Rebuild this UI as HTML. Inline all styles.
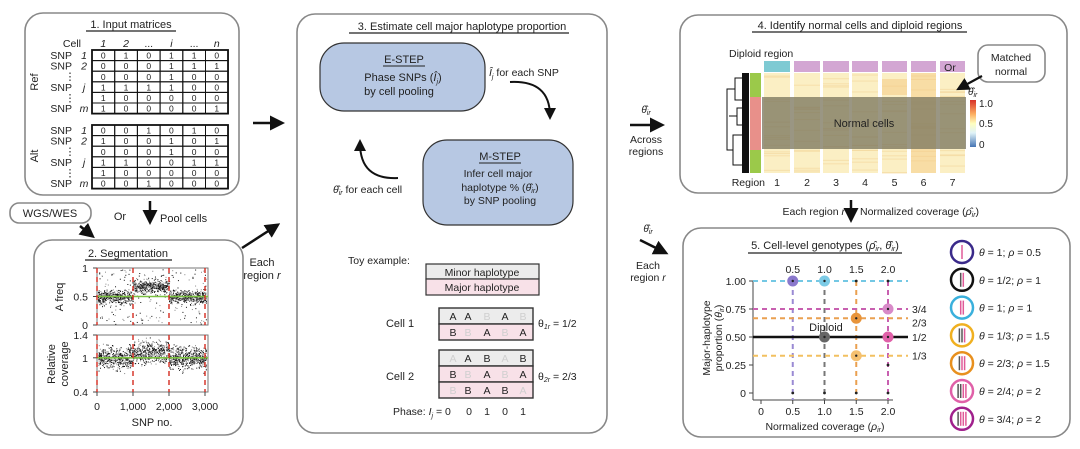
<!DOCTYPE html>
<html><head><meta charset="utf-8"><style>
html,body{margin:0;padding:0;background:#fff;}
svg{display:block;font-family:"Liberation Sans",Arial,sans-serif;fill:#222;}
</style></head><body>
<svg id="s" width="1080" height="449" viewBox="0 0 1080 449" xmlns="http://www.w3.org/2000/svg">
<defs>
<marker id="ah" markerWidth="6" markerHeight="6" refX="4" refY="3" orient="auto" markerUnits="strokeWidth"><path d="M0,0 L6,3 L0,6 z" fill="#111"/></marker>
</defs>
<rect x="25" y="13" width="214" height="182" rx="18" fill="none" stroke="#888" stroke-width="1.6"/>
<rect x="34" y="240" width="209" height="195" rx="18" fill="none" stroke="#888" stroke-width="1.6"/>
<rect x="297" y="14" width="310" height="419" rx="18" fill="none" stroke="#888" stroke-width="1.6"/>
<rect x="680" y="15" width="387" height="178" rx="18" fill="none" stroke="#888" stroke-width="1.6"/>
<rect x="683" y="228" width="387" height="209" rx="18" fill="none" stroke="#888" stroke-width="1.6"/>
<rect x="10" y="203" width="81" height="20" rx="9" fill="#fff" stroke="#888" stroke-width="1.6"/>
<text x="50" y="217" font-size="11" text-anchor="middle">WGS/WES</text>

<text x="131" y="28" font-size="11" text-anchor="middle">1. Input matrices</text>
<line x1="86" y1="31" x2="176" y2="31" stroke="#222" stroke-width="1.2"/>
<g id="p1"></g>

<line x1="253" y1="123" x2="280" y2="123" stroke="#111" stroke-width="2.5" marker-end="url(#ah)"/>
<text x="120" y="220" font-size="11" text-anchor="middle">Or</text>
<line x1="150" y1="201" x2="150" y2="220" stroke="#111" stroke-width="2.5" marker-end="url(#ah)"/>
<text x="160" y="222" font-size="11">Pool cells</text>
<line x1="80" y1="226" x2="91" y2="235" stroke="#111" stroke-width="2.5" marker-end="url(#ah)"/>
<line x1="242" y1="248" x2="276" y2="226" stroke="#111" stroke-width="2.5" marker-end="url(#ah)"/>
<text x="262" y="266" font-size="11" text-anchor="middle">Each</text>
<text x="262" y="279" font-size="11" text-anchor="middle">region <tspan font-style="italic">r</tspan></text>

<text x="128" y="257" font-size="11" text-anchor="middle">2. Segmentation</text>
<line x1="85" y1="260" x2="172" y2="260" stroke="#222" stroke-width="1.2"/>
<g id="p2"></g>

<text x="462" y="30" font-size="11" text-anchor="middle">3. Estimate cell major haplotype proportion</text>
<line x1="349" y1="33" x2="569" y2="33" stroke="#222" stroke-width="1.2"/>
<rect x="320" y="43" width="165" height="68" rx="24" fill="#b7c8e3" stroke="#333" stroke-width="1.2"/>
<text x="404" y="63" font-size="11" text-anchor="middle">E-STEP</text>
<line x1="383" y1="66" x2="425" y2="66" stroke="#222" stroke-width="1"/>
<text x="403" y="81" font-size="11" text-anchor="middle">Phase SNPs (<tspan font-style="italic">Î<tspan font-size="7" dy="3">j</tspan></tspan><tspan dy="-3">)</tspan></text>
<text x="399" y="95" font-size="11" text-anchor="middle">by cell pooling</text>
<rect x="423" y="140" width="150" height="85" rx="24" fill="#b7c8e3" stroke="#333" stroke-width="1.2"/>
<text x="500" y="160" font-size="11" text-anchor="middle">M-STEP</text>
<line x1="479" y1="163" x2="521" y2="163" stroke="#222" stroke-width="1"/>
<text x="498" y="177" font-size="10.5" text-anchor="middle">Infer cell major</text>
<text x="500" y="191" font-size="10.5" text-anchor="middle">haplotype % (<tspan font-style="italic">θ̂<tspan font-size="7" dy="2">ir</tspan></tspan><tspan dy="-2">)</tspan></text>
<text x="500" y="204" font-size="10.5" text-anchor="middle">by SNP pooling</text>
<text x="489" y="76" font-size="10.5"><tspan font-style="italic">Î<tspan font-size="7" dy="3">j</tspan></tspan><tspan dy="-3"> for each SNP</tspan></text>
<path d="M510,82 Q550,80 550,116" fill="none" stroke="#111" stroke-width="2" marker-end="url(#ah)"/>
<path d="M398,178 Q360,180 360,143" fill="none" stroke="#111" stroke-width="2" marker-end="url(#ah)"/>
<text x="333" y="193" font-size="10.5"><tspan font-style="italic">θ̂<tspan font-size="7" dy="2">ir</tspan></tspan><tspan dy="-2"> for each cell</tspan></text>
<text x="348" y="264" font-size="10.5">Toy example:</text>
<rect x="426" y="264" width="113" height="15" fill="#ececec" stroke="#333" stroke-width="1.2"/>
<rect x="426" y="279" width="113" height="16" fill="#f8e1e8" stroke="#333" stroke-width="1.2"/>
<text x="482" y="276" font-size="10.5" text-anchor="middle">Minor haplotype</text>
<text x="482" y="291" font-size="10.5" text-anchor="middle">Major haplotype</text>
<g id="p3"></g>
<text x="400" y="327" font-size="11" text-anchor="middle">Cell 1</text>
<text x="400" y="380" font-size="11" text-anchor="middle">Cell 2</text>
<text x="538" y="327" font-size="10.5">θ<tspan font-size="7" dy="2" font-style="italic">1r</tspan><tspan dy="-2"> = 1/2</tspan></text>
<text x="538" y="380" font-size="10.5">θ<tspan font-size="7" dy="2" font-style="italic">2r</tspan><tspan dy="-2"> = 2/3</tspan></text>
<text x="393" y="415" font-size="10.5">Phase: <tspan font-style="italic">I<tspan font-size="7" dy="3">j</tspan></tspan><tspan dy="-3"> = 0</tspan></text>
<text x="469" y="415" font-size="10.5" text-anchor="middle">0</text>
<text x="487" y="415" font-size="10.5" text-anchor="middle">1</text>
<text x="505" y="415" font-size="10.5" text-anchor="middle">0</text>
<text x="523" y="415" font-size="10.5" text-anchor="middle">1</text>

<text x="646" y="113" font-size="10" text-anchor="middle" font-style="italic">θ̂<tspan font-size="7" dy="2">ir</tspan></text>
<line x1="630" y1="125" x2="660" y2="125" stroke="#111" stroke-width="2.5" marker-end="url(#ah)"/>
<text x="646" y="143" font-size="10.5" text-anchor="middle">Across</text>
<text x="646" y="155" font-size="10.5" text-anchor="middle">regions</text>
<text x="648" y="232" font-size="10" text-anchor="middle" font-style="italic">θ̂<tspan font-size="7" dy="2">ir</tspan></text>
<line x1="640" y1="240" x2="664" y2="252" stroke="#111" stroke-width="2.5" marker-end="url(#ah)"/>
<text x="648" y="269" font-size="10.5" text-anchor="middle">Each</text>
<text x="648" y="281" font-size="10.5" text-anchor="middle">region <tspan font-style="italic">r</tspan></text>
<text x="845" y="215" font-size="10.5" text-anchor="end">Each region <tspan font-style="italic">r</tspan></text>
<line x1="851" y1="200" x2="851" y2="218" stroke="#111" stroke-width="2.5" marker-end="url(#ah)"/>
<text x="860" y="215" font-size="10.5">Normalized coverage (<tspan font-style="italic">ρ̂<tspan font-size="7" dy="2">ir</tspan></tspan><tspan dy="-2">)</tspan></text>

<text x="860" y="29" font-size="11" text-anchor="middle">4. Identify normal cells and diploid regions</text>
<line x1="752" y1="32" x2="967" y2="32" stroke="#222" stroke-width="1.2"/>
<text x="729" y="57" font-size="10.5">Diploid region</text>
<g id="p4"></g>
<rect x="978" y="45" width="67" height="37" rx="10" fill="#fff" stroke="#888" stroke-width="1.6"/>
<text x="1011" y="61" font-size="10.5" text-anchor="middle">Matched</text>
<text x="1011" y="75" font-size="10.5" text-anchor="middle">normal</text>
<text x="950" y="71" font-size="10.5" text-anchor="middle">Or</text>
<line x1="982" y1="76" x2="960" y2="88" stroke="#111" stroke-width="2.2" marker-end="url(#ah)"/>
<text x="968" y="95" font-size="10" font-style="italic">θ̂<tspan font-size="7" dy="2">ir</tspan></text>
<defs><linearGradient id="cb" x1="0" y1="0" x2="0" y2="1"><stop offset="0" stop-color="#d73027"/><stop offset="0.3" stop-color="#fdae61"/><stop offset="0.5" stop-color="#ffffbf"/><stop offset="0.7" stop-color="#e0f3f8"/><stop offset="1" stop-color="#4575b4"/></linearGradient></defs>
<rect x="970" y="100" width="6" height="47" fill="url(#cb)"/>
<text x="979" y="107" font-size="10">1.0</text>
<text x="979" y="127" font-size="10">0.5</text>
<text x="979" y="148" font-size="10">0</text>
<text x="765" y="186" font-size="10.5" text-anchor="end">Region</text>

<text x="825" y="249" font-size="11" text-anchor="middle">5. Cell-level genotypes (<tspan font-style="italic">ρ̂<tspan font-size="7" dy="2">ir</tspan></tspan><tspan dy="-2">, </tspan><tspan font-style="italic">θ̂<tspan font-size="7" dy="2">ir</tspan></tspan><tspan dy="-2">)</tspan></text>
<line x1="748" y1="253" x2="902" y2="253" stroke="#222" stroke-width="1.2"/>
<text x="825" y="430" font-size="10.5" text-anchor="middle">Normalized coverage (<tspan font-style="italic">ρ<tspan font-size="7" dy="2">ir</tspan></tspan><tspan dy="-2">)</tspan></text>
<text transform="translate(710,338) rotate(-90)" font-size="10.5" text-anchor="middle">Major-haplotype</text>
<text transform="translate(722,338) rotate(-90)" font-size="10.5" text-anchor="middle">proportion (<tspan font-style="italic">θ<tspan font-size="7" dy="2">ir</tspan></tspan><tspan dy="-2">)</tspan></text>
<g id="p5"></g>
</svg>
<script>
var NS="http://www.w3.org/2000/svg";
function el(p,t,a,txt){var e=document.createElementNS(NS,t);for(var k in a)e.setAttribute(k,a[k]);if(txt!=null)e.textContent=txt;document.getElementById(p).appendChild(e);return e;}
var seed=7;function rnd(){seed=(seed*16807)%2147483647;return seed/2147483647;}
function gauss(){return (rnd()+rnd()+rnd()+rnd()-2)/1.2;}
var hdr=["1","2","...","i","...","n"];
el("p1","text",{x:81,y:47,"font-size":10.5,"text-anchor":"end"},"Cell");
for(var c=0;c<6;c++)el("p1","text",{x:103.3+c*22.7,y:47,"font-size":10.5,"text-anchor":"middle","font-style":(c==2||c==4)?"normal":"italic"},hdr[c]);
var ref=["010110","000111","000100","111100","100000","100001"],alt=["001010","100101","000100","110011","100000","001000"];
var lab=[["SNP","1"],["SNP","2"],["⋮",""],["SNP","j"],["⋮",""],["SNP","m"]];
function mat(y0,d,name,ny){var h=10.6;
 el("p1","rect",{x:92,y:y0,width:136,height:h*6,fill:"#fff",stroke:"#111","stroke-width":1.8});
 for(var r=0;r<6;r++){for(var c=0;c<6;c++){el("p1","rect",{x:92+c*22.7,y:y0+r*h,width:22.7,height:h,fill:"none",stroke:"#111","stroke-width":1});
   el("p1","text",{x:103.3+c*22.7,y:y0+r*h+8.6,"font-size":8.5,"text-anchor":"middle"},d[r][c]);}
  el("p1","text",{x:lab[r][1]?72:70,y:y0+r*h+9,"font-size":10.5,"text-anchor":lab[r][1]?"end":"middle"},lab[r][0]);
  if(lab[r][1])el("p1","text",{x:84,y:y0+r*h+9,"font-size":10.5,"text-anchor":"middle","font-style":"italic"},lab[r][1]);}
 el("p1","text",{"font-size":11,"text-anchor":"middle",transform:"translate(38,"+ny+") rotate(-90)"},name);}
mat(50,ref,"Ref",82);mat(125,alt,"Alt",156);
function plot(y0,h,ticks,tl,gl,ylab){
 el("p2","rect",{x:97,y:y0,width:111,height:h,fill:"#fff",stroke:"#777","stroke-width":1});
 for(var i=0;i<ticks.length;i++){var yy=y0+h*ticks[i];el("p2","line",{x1:93,y1:yy,x2:97,y2:yy,stroke:"#444"});el("p2","text",{x:88,y:yy+4,"font-size":10.5,"text-anchor":"end"},tl[i]);}
 for(var n=0;n<1400;n++){var x=98+rnd()*108;var s=x<133?0:x<169?1:2;var m=gl+(ylab=="a"&&s==1?-0.18:0)+(ylab=="c"&&s==1?-0.1:0);
  var v=m+gauss()*(ylab=="a"?0.12:0.2);if(ylab=="a"&&rnd()<0.15)v=rnd();
  if(v<0.02||v>0.98)continue;el("p2","rect",{x:x,y:y0+v*h,width:1,height:1,fill:rnd()<0.6?"#111":"#888"});}
 el("p2","line",{x1:97,y1:y0+gl*h,x2:208,y2:y0+gl*h,stroke:"#7cc242","stroke-width":1.6});
 [97,133,169,205].forEach(function(x){el("p2","line",{x1:x,y1:y0,x2:x,y2:y0+h,stroke:"#d42a1f","stroke-width":1.4,"stroke-dasharray":"5,4"});});}
plot(268,57,[0,0.5,1],["1","0.5","0"],0.5,"a");
plot(335,57,[0,0.4,1],["1.4","1","0.4"],0.4,"c");
el("p2","text",{"font-size":11,"text-anchor":"middle",transform:"translate(63,297) rotate(-90)"},"A freq");
el("p2","text",{"font-size":11,"text-anchor":"middle",transform:"translate(55,364) rotate(-90)"},"Relative");
el("p2","text",{"font-size":11,"text-anchor":"middle",transform:"translate(68,364) rotate(-90)"},"coverage");
[[97,"0"],[133,"1,000"],[169,"2,000"],[205,"3,000"]].forEach(function(a){el("p2","line",{x1:a[0],y1:392,x2:a[0],y2:396,stroke:"#444"});el("p2","text",{x:a[0],y:410,"font-size":10.5,"text-anchor":"middle"},a[1]);});
el("p2","text",{x:152,y:426,"font-size":11,"text-anchor":"middle"},"SNP no.");
var cx=[453,468,487,505,523];
function row(y,bg,letters,faint){el("p3","rect",{x:439,y:y,width:94,height:16,fill:bg,stroke:"#333","stroke-width":1.4});
 for(var i=0;i<5;i++)el("p3","text",{x:cx[i],y:y+12,"font-size":10.5,"text-anchor":"middle",fill:faint[i]?"#cfcfcf":"#222"},letters[i]);}
row(308,"#ececec","AABAB",[0,0,1,0,1]);row(324,"#f8e1e8","BBABA",[0,1,0,1,0]);
row(350,"#ececec","AABAB",[1,0,0,1,0]);row(366,"#f8e1e8","BBABA",[0,1,0,1,0]);row(382,"#f8e1e8","BBABA",[1,0,0,0,1]);
var cols=[[764,790],[794,820],[823,849],[852,878],[882,907],[911,936],[940,965]];
cols.forEach(function(c,i){el("p4","rect",{x:c[0],y:61,width:c[1]-c[0],height:11,fill:i==0?"#7ecad3":"#d3a6d3"});
 el("p4","rect",{x:c[0],y:73,width:c[1]-c[0],height:100,fill:"#fbefc4"});
 for(var k=0;k<14;k++){var yy=73+rnd()*100;el("p4","rect",{x:c[0],y:yy,width:c[1]-c[0],height:1,fill:"#f3d9a0",opacity:0.7});}
 if(i==5)el("p4","rect",{x:c[0],y:73,width:c[1]-c[0],height:100,fill:"#f3c780",opacity:0.45});
 if(i==4)el("p4","rect",{x:c[0],y:79,width:c[1]-c[0],height:16,fill:"#f3c780",opacity:0.5});
 el("p4","text",{x:(c[0]+c[1])/2,y:186,"font-size":10.5,"text-anchor":"middle"},""+(i+1));});
el("p4","rect",{x:762,y:97,width:204,height:52,fill:"#7d7860",opacity:0.78});
el("p4","text",{x:864,y:127,"font-size":11,"text-anchor":"middle"},"Normal cells");
el("p4","rect",{x:750,y:73,width:11,height:24,fill:"#9bc94a"});
el("p4","rect",{x:750,y:97,width:11,height:53,fill:"#e8908a"});
el("p4","rect",{x:750,y:150,width:11,height:23,fill:"#9bc94a"});
el("p4","rect",{x:742,y:73,width:7,height:100,fill:"#111"});
el("p4","path",{d:"M742,78 H735 V100 H742 M735,89 H727 V150 H729 M742,108 H737 V125 H742 M737,116 H729 M742,135 H733 V165 H742 M733,150 H729",fill:"none",stroke:"#111","stroke-width":1});
function X(v){return 761+v*63.5;}function Y(v){return 393-v*112;}
el("p5","line",{x1:753,y1:281,x2:753,y2:400,stroke:"#444"});
el("p5","line",{x1:753,y1:400,x2:893,y2:400,stroke:"#444"});
[[1,"1.00"],[0.75,"0.75"],[0.5,"0.50"],[0.25,"0.25"],[0,"0"]].forEach(function(a){el("p5","line",{x1:749,y1:Y(a[0]),x2:753,y2:Y(a[0]),stroke:"#444"});el("p5","text",{x:746,y:Y(a[0])+4,"font-size":10.5,"text-anchor":"end"},a[1]);});
[0,0.5,1,1.5,2].forEach(function(v){el("p5","line",{x1:X(v),y1:400,x2:X(v),y2:404,stroke:"#444"});el("p5","text",{x:X(v),y:415,"font-size":10.5,"text-anchor":"middle"},v==0?"0":v.toFixed(1));});
[0.5,1,1.5,2].forEach(function(v){el("p5","text",{x:X(v),y:273,"font-size":10.5,"text-anchor":"middle"},v.toFixed(1));});
el("p5","line",{x1:X(0.5),y1:Y(1),x2:X(0.5),y2:400,stroke:"#9a8ad4","stroke-width":2,"stroke-dasharray":"5,4"});
el("p5","line",{x1:X(1),y1:Y(1),x2:X(1),y2:400,stroke:"#777","stroke-width":2,"stroke-dasharray":"5,4"});
el("p5","line",{x1:X(1.5),y1:Y(1),x2:X(1.5),y2:400,stroke:"#eaa050","stroke-width":2,"stroke-dasharray":"5,4"});
el("p5","line",{x1:X(2),y1:Y(1),x2:X(2),y2:400,stroke:"#c860b0","stroke-width":2,"stroke-dasharray":"5,4"});
el("p5","line",{x1:753,y1:Y(1),x2:908,y2:Y(1),stroke:"#74c8e4","stroke-width":2,"stroke-dasharray":"5,4"});
el("p5","line",{x1:753,y1:Y(0.75),x2:908,y2:Y(0.75),stroke:"#c860b0","stroke-width":2,"stroke-dasharray":"5,4"});
el("p5","line",{x1:753,y1:Y(0.667),x2:908,y2:Y(0.667),stroke:"#eaa050","stroke-width":2,"stroke-dasharray":"5,4"});
el("p5","line",{x1:753,y1:Y(0.333),x2:908,y2:Y(0.333),stroke:"#f2c060","stroke-width":2,"stroke-dasharray":"5,4"});
el("p5","line",{x1:753,y1:Y(0.5),x2:908,y2:Y(0.5),stroke:"#111","stroke-width":2.5});
[[0.5,1,"#8a78cc"],[1,1,"#7ccbe6"],[2,0.75,"#d88ac8"],[1.5,0.667,"#e8943a"],[1,0.5,"#666"],[2,0.5,"#e060a8"],[1.5,0.333,"#f5c070"]].forEach(function(p){el("p5","circle",{cx:X(p[0]),cy:Y(p[1]),r:5.5,fill:p[2]});el("p5","circle",{cx:X(p[0]),cy:Y(p[1]),r:1.2,fill:"#222"});});
[[1.5,1],[2,1],[2,0.25],[0.5,0],[1,0],[1.5,0],[2,0]].forEach(function(p){el("p5","circle",{cx:X(p[0]),cy:Y(p[1]),r:1.4,fill:"#222"});});
el("p5","text",{x:826,y:331,"font-size":11,"text-anchor":"middle"},"Diploid");
[[0.75,"3/4"],[0.667,"2/3"],[0.5,"1/2"],[0.333,"1/3"]].forEach(function(a,i){el("p5","text",{x:912,y:Y(a[0])+(i==1?8:4),"font-size":10.5},a[1]);});
var leg=[["#3a2a8a","1","0.5","p"],["#111","1/2","1","gp"],["#3ab0dc","1","1","pp"],["#f0b020","1/3","1.5","ggp"],["#e8901e","2/3","1.5","gpp"],["#e060a8","2/4","2","ggpp"],["#a0208c","3/4","2","gppp"]];
leg.forEach(function(l,i){var y=252+i*27.8;el("p5","circle",{cx:962,cy:y,r:11,fill:"#fff",stroke:l[0],"stroke-width":2.5});
 var n=l[3].length;for(var k=0;k<n;k++){var xx=962+(k-(n-1)/2)*2.6;el("p5","line",{x1:xx,y1:y-7,x2:xx,y2:y+7,stroke:l[3][k]=="g"?"#555":"#e05a98","stroke-width":1.5});}
 var t=el("p5","text",{x:979,y:y+4,"font-size":10.5});
 t.innerHTML='<tspan font-style="italic">θ</tspan> = '+l[1]+'; <tspan font-style="italic">ρ</tspan> = '+l[2];});
</script>
</body></html>
